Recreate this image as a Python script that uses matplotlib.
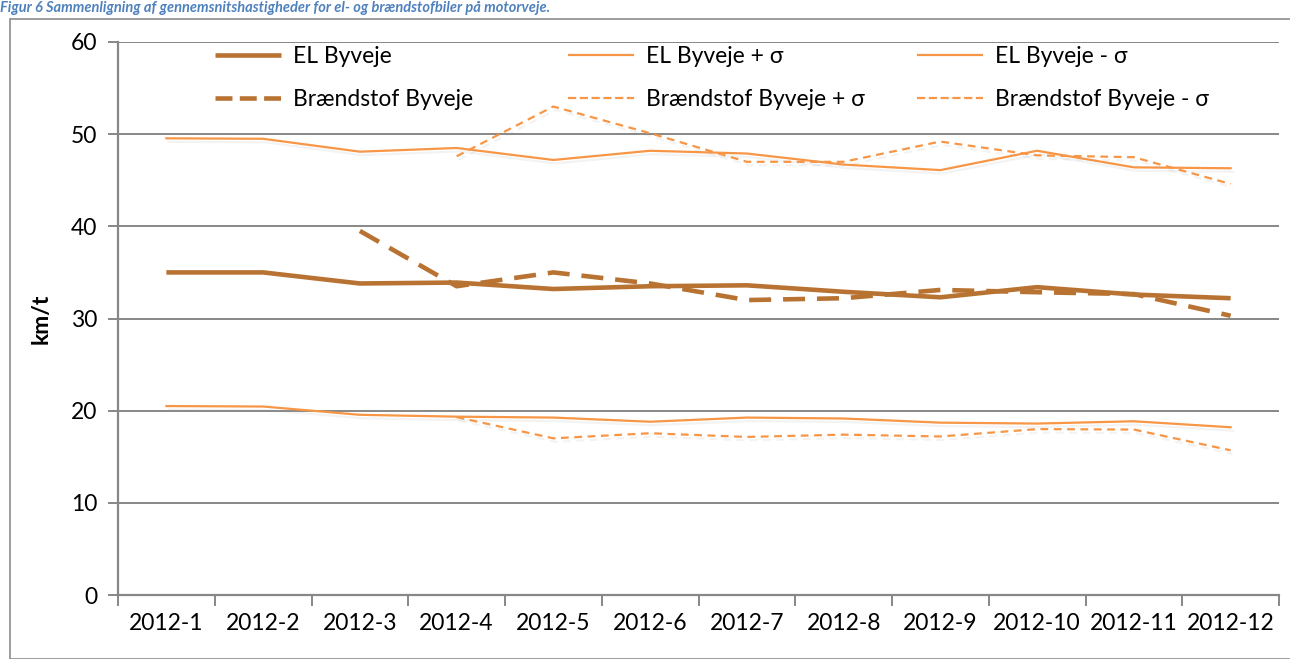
import numpy as np
import matplotlib
matplotlib.use("Agg")
import matplotlib.pyplot as plt
from matplotlib import patheffects as pe
from matplotlib.patches import Rectangle
from matplotlib.lines import Line2D

plt.rcParams['font.family'] = ['Lato', 'DejaVu Sans']

categories = ["2012-1", "2012-2", "2012-3", "2012-4", "2012-5", "2012-6",
              "2012-7", "2012-8", "2012-9", "2012-10", "2012-11", "2012-12"]
nan = np.nan
el = [35.0, 35.0, 33.8, 33.9, 33.2, 33.5, 33.6, 32.9, 32.3, 33.4, 32.6, 32.2]
el_plus = [49.55, 49.5, 48.1, 48.5, 47.2, 48.2, 47.9, 46.7, 46.1, 48.2, 46.4, 46.3]
el_minus = [20.5, 20.45, 19.55, 19.35, 19.25, 18.8, 19.25, 19.15, 18.7, 18.6, 18.85, 18.2]
br = [nan, nan, 39.5, 33.5, 35.0, 33.8, 32.0, 32.2, 33.1, 32.85, 32.65, 30.3]
br_plus = [nan, nan, nan, 47.6, 53.0, 50.1, 47.0, 47.0, 49.2, 47.7, 47.5, 44.6]
br_minus = [nan, nan, nan, 19.3, 17.0, 17.55, 17.15, 17.4, 17.2, 18.0, 17.95, 15.7]
yticks = [0, 10, 20, 30, 40, 50, 60]

dark = '#B87333'
light = '#F79646'
grid = '#878787'

W, H = 1290, 659
fig = plt.figure(figsize=(W / 100, H / 100), dpi=100)

# chart border
fig.patches.append(Rectangle((10 / W, 0), 1.2, (H - 19) / H, transform=fig.transFigure,
                             fill=False, edgecolor='#8c8c8c', lw=1.2))

# caption above the chart
fig.text(0.0, 1 - 1 / H, "Figur 6 Sammenligning af gennemsnitshastigheder for el- og brændstofbiler på motorveje.",
         color='#4F81BD', fontsize=10.5, fontweight='bold', fontstyle='italic',
         ha='left', va='top')

ax = fig.add_axes([118 / W, (H - 595) / H, (1279 - 118) / W, (595 - 42) / H])
x = np.arange(len(categories))

shadow = [pe.SimpleLineShadow(offset=(1.5, -2.5), shadow_color='#a0a0a0', alpha=0.12), pe.Normal()]

l_el, = ax.plot(x, el, color=dark, lw=3.3, solid_capstyle='butt', zorder=5)
l_br, = ax.plot(x, br, color=dark, lw=3.3, linestyle=(0, (4.8, 2.6)), dash_capstyle='butt', zorder=5)
l_elp, = ax.plot(x, el_plus, color=light, lw=1.6, path_effects=shadow, zorder=4)
l_brp, = ax.plot(x, br_plus, color=light, lw=1.6, linestyle=(0, (3.5, 2.5)), path_effects=shadow, zorder=4)
l_elm, = ax.plot(x, el_minus, color=light, lw=1.6, path_effects=shadow, zorder=4)
l_brm, = ax.plot(x, br_minus, color=light, lw=1.6, linestyle=(0, (3.5, 2.5)), path_effects=shadow, zorder=4)

ax.set_xlim(-0.5, len(categories) - 0.5)
ax.set_ylim(0, 60)
ax.set_yticks(yticks)
ax.yaxis.grid(True, color=grid, lw=1.4)
ax.set_axisbelow(True)
for s in ['top', 'right']:
    ax.spines[s].set_visible(False)
for s in ['left', 'bottom']:
    ax.spines[s].set_color(grid)
    ax.spines[s].set_linewidth(1.6)

ax.set_xticks(np.arange(-0.5, len(categories), 1.0))
ax.set_xticklabels([])
ax.set_xticks(x, minor=True)
ax.set_xticklabels(categories, minor=True, fontsize=16.5)
ax.tick_params(axis='x', which='major', length=8, width=1.4, color=grid, direction='out')
ax.tick_params(axis='x', which='minor', length=0, pad=13)
ax.tick_params(axis='y', length=7, width=1.4, color=grid, labelsize=16.5, pad=8)

ax.set_ylabel("km/t", fontsize=16.5, fontweight='bold', labelpad=14)

# legends: three columns, two rows
cols = [((l_el, "EL Byveje"), (l_br, "Brændstof Byveje"), 215),
        ((l_elp, "EL Byveje + σ"), (l_brp, "Brændstof Byveje + σ"), 568),
        ((l_elm, "EL Byveje - σ"), (l_brm, "Brændstof Byveje - σ"), 917)]
for a, b, px in cols:
    hs = []
    for h, lab in (a, b):
        hh = Line2D([], [], color=h.get_color(), lw=h.get_linewidth(), linestyle=h.get_linestyle(),
                    dash_capstyle='butt', solid_capstyle='butt')
        hs.append((hh, lab))
    leg = fig.legend([h for h, _ in hs], [l for _, l in hs], loc='upper left',
                     bbox_to_anchor=(px / W, (H - 46) / H), frameon=False, fontsize=16.5,
                     handlelength=2.9, handletextpad=0.5, labelspacing=0.95, borderaxespad=0,
                     borderpad=0)

fig.savefig("out.png", dpi=100)
